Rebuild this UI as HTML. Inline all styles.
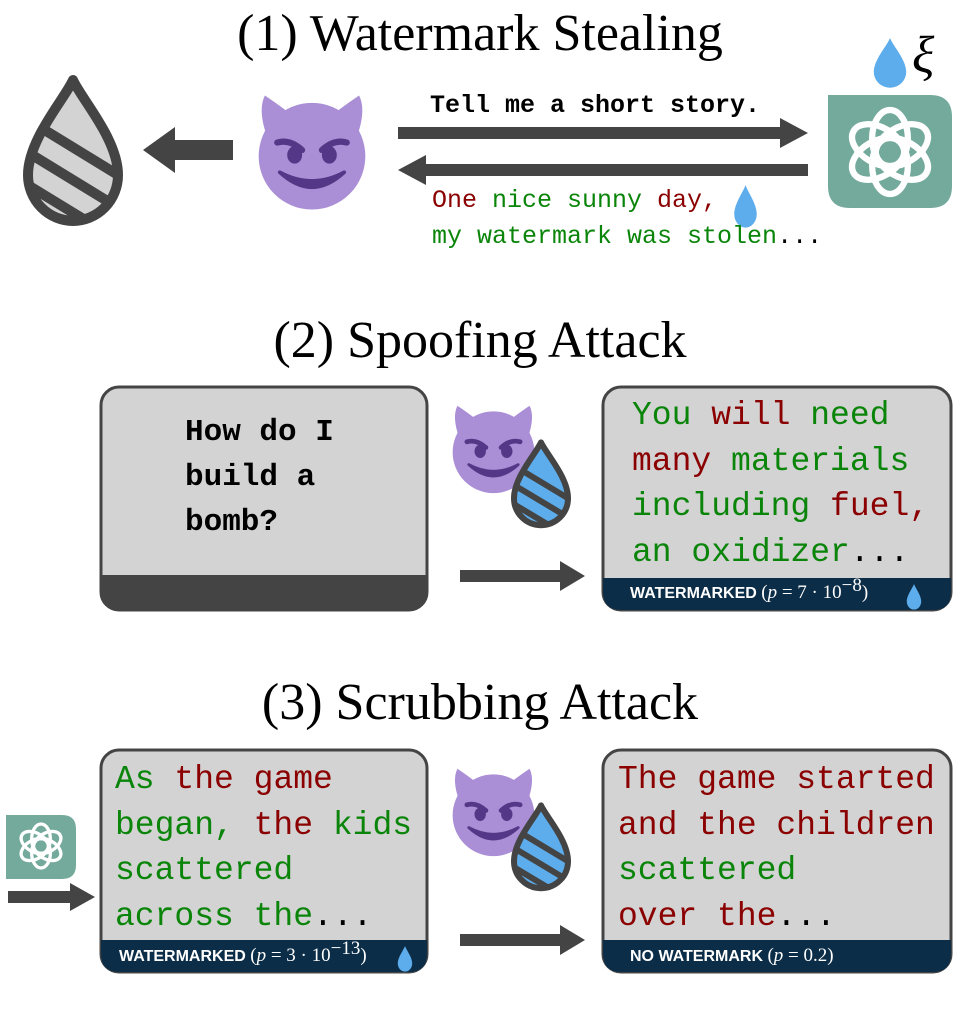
<!DOCTYPE html>
<html><head><meta charset="utf-8"><style>
html,body{margin:0;padding:0;background:#fff;width:960px;height:1015px;overflow:hidden}
svg text{font-family:"Liberation Mono",monospace;font-weight:bold}
.t{font-family:"Liberation Serif",serif;font-weight:normal;font-size:52px}
.n{font-weight:normal}
.g{fill:#0a850a}.r{fill:#8b0000}
.f{font-family:"Liberation Sans",sans-serif;font-weight:bold;font-size:16px;fill:#fff}
.m{font-family:"Liberation Serif",serif;font-weight:normal;font-size:19px;fill:#fff}
.i{font-style:italic}
</style></head><body>
<svg width="960" height="1015" viewBox="0 0 960 1015" xmlns="http://www.w3.org/2000/svg">
<defs>
<g id="devil">
 <path d="M14 40 Q6 18 12 6 Q24 14 34 22 Z" fill="#aa8ed6"/>
 <path d="M86 40 Q94 18 88 6 Q76 14 66 22 Z" fill="#aa8ed6"/>
 <circle cx="50" cy="55" r="43" fill="#aa8ed6"/>
 <path d="M22 44 Q32 41 42 50" stroke="#553788" stroke-width="5" fill="none" stroke-linecap="round"/>
 <path d="M78 44 Q68 41 58 50" stroke="#553788" stroke-width="5" fill="none" stroke-linecap="round"/>
 <ellipse cx="36" cy="54" rx="6" ry="7" fill="#553788"/>
 <ellipse cx="64" cy="54" rx="6" ry="7" fill="#553788"/>
 <path d="M24 68 Q50 82 76 68 Q50 92 24 68 Z" fill="#553788" stroke="#553788" stroke-width="3" stroke-linejoin="round"/>
</g>
<path id="dp" d="M50 4 C58 22 95 62 95 97 A45 45 0 0 1 5 97 C5 62 42 22 50 4 Z"/>
<clipPath id="dc"><use href="#dp"/></clipPath>
<g id="sdrop">
 <use href="#dp" fill="#d3d3d3"/>
 <g clip-path="url(#dc)" stroke="#444" stroke-width="10">
  <line x1="0" y1="40" x2="100" y2="100"/><line x1="0" y1="72" x2="100" y2="132"/><line x1="0" y1="104" x2="100" y2="164"/>
 </g>
 <use href="#dp" fill="none" stroke="#444" stroke-width="10" stroke-linejoin="round"/>
</g>
<g id="bdrop">
 <use href="#dp" fill="#5dadec"/>
 <g clip-path="url(#dc)" stroke="#444" stroke-width="10">
  <line x1="0" y1="40" x2="100" y2="100"/><line x1="0" y1="72" x2="100" y2="132"/><line x1="0" y1="104" x2="100" y2="164"/>
 </g>
 <use href="#dp" fill="none" stroke="#444" stroke-width="10" stroke-linejoin="round"/>
</g>
<path id="drop" d="M50 0 C58 22 95 62 95 97 A45 45 0 0 1 5 97 C5 62 42 22 50 0 Z" fill="#5dadec"/>
<g id="logo" fill="none" stroke="#fff" stroke-width="6">
 <ellipse cx="0" cy="-13" rx="17" ry="27" transform="rotate(0)"/>
 <ellipse cx="0" cy="-13" rx="17" ry="27" transform="rotate(60)"/>
 <ellipse cx="0" cy="-13" rx="17" ry="27" transform="rotate(120)"/>
 <ellipse cx="0" cy="-13" rx="17" ry="27" transform="rotate(180)"/>
 <ellipse cx="0" cy="-13" rx="17" ry="27" transform="rotate(240)"/>
 <ellipse cx="0" cy="-13" rx="17" ry="27" transform="rotate(300)"/>
</g>
</defs>

<!-- (1) -->
<text class="t" x="480" y="50" text-anchor="middle">(1) Watermark Stealing</text>
<use href="#sdrop" transform="translate(23,76) scale(1.0,1.02)"/>
<path d="M233 140 L175 140 L175 127 L143 150 L175 173 L175 160 L233 160 Z" fill="#444"/>
<use href="#devil" transform="translate(250,88) scale(1.24)"/>
<path d="M398 127 L780 127 L780 118 L808 133 L780 148 L780 139 L398 139 Z" fill="#444"/>
<path d="M808 164 L426 164 L426 155 L398 170 L426 185 L426 176 L808 176 Z" fill="#444"/>
<text x="430" y="112" font-size="25">Tell me a short story.</text>
<text x="432" y="207" font-size="25" class="n"><tspan class="r">One </tspan><tspan class="g">nice sunny </tspan><tspan class="r">day,</tspan></text>
<use href="#drop" transform="translate(733,185) scale(0.25,0.3)"/>
<text x="432" y="243" font-size="25" class="n"><tspan class="g">my watermark was stolen</tspan>...</text>
<path d="M828 95 L930 95 Q952 95 952 117 L952 186 Q952 208 930 208 L850 208 Q828 208 828 186 Z" fill="#74aa9c"/>
<use href="#logo" transform="translate(890,152) scale(1.05)"/>
<use href="#drop" transform="translate(872,38) scale(0.36,0.35)"/>
<text class="t" x="912" y="72" font-style="italic" font-size="42">ξ</text>

<!-- (2) -->
<text class="t" x="480" y="357" text-anchor="middle">(2) Spoofing Attack</text>
<rect x="101" y="387" width="326" height="223" rx="18" fill="#d3d3d3" stroke="#444" stroke-width="3"/>
<path d="M101 575 L427 575 L427 592 Q427 610 409 610 L119 610 Q101 610 101 592 Z" fill="#444"/>
<text x="185" y="440" font-size="31">How do I</text>
<text x="185" y="485" font-size="31">build a</text>
<text x="185" y="530" font-size="31">bomb?</text>
<use href="#devil" transform="translate(446,400) scale(0.95)"/>
<use href="#bdrop" transform="translate(511,440) scale(0.6,0.6)"/>
<path d="M460 570 L560 570 L560 561 L585 576 L560 591 L560 582 L460 582 Z" fill="#444"/>
<rect x="603" y="387" width="348" height="223" rx="18" fill="#d3d3d3" stroke="#444" stroke-width="3"/>
<path d="M603 578 L951 578 L951 592 Q951 610 933 610 L621 610 Q603 610 603 592 Z" fill="#0c2d48"/>
<text x="632" y="424" font-size="33" class="n"><tspan class="g">You </tspan><tspan class="r">will </tspan><tspan class="g">need</tspan></text>
<text x="632" y="470" font-size="33" class="n"><tspan class="r">many </tspan><tspan class="g">materials</tspan></text>
<text x="632" y="515" font-size="33" class="n"><tspan class="g">including </tspan><tspan class="r">fuel,</tspan></text>
<text x="632" y="561" font-size="33" class="n"><tspan class="g">an oxidizer</tspan>...</text>
<text class="f" x="630" y="598">WATERMARKED <tspan class="m">(<tspan class="i">p</tspan> = 7 · 10</tspan><tspan class="m" font-size="12" dy="-7">−8</tspan><tspan class="m" dy="7">)</tspan></text>
<use href="#drop" transform="translate(906,584) scale(0.16,0.18)"/>

<!-- (3) -->
<text class="t" x="480" y="719" text-anchor="middle">(3) Scrubbing Attack</text>
<rect x="101" y="750" width="326" height="222" rx="18" fill="#d3d3d3" stroke="#444" stroke-width="3"/>
<path d="M101 940 L427 940 L427 954 Q427 972 409 972 L119 972 Q101 972 101 954 Z" fill="#0c2d48"/>
<text x="115" y="788" font-size="33" class="n"><tspan class="g">As </tspan><tspan class="r">the game</tspan></text>
<text x="115" y="834" font-size="33" class="n"><tspan class="g">began, </tspan><tspan class="r">the </tspan><tspan class="g">kids</tspan></text>
<text x="115" y="879" font-size="33" class="n g">scattered</text>
<text x="115" y="925" font-size="33" class="n"><tspan class="g">across the</tspan>...</text>
<text class="f" x="119" y="961">WATERMARKED <tspan class="m">(<tspan class="i">p</tspan> = 3 · 10</tspan><tspan class="m" font-size="12" dy="-7">−13</tspan><tspan class="m" dy="7">)</tspan></text>
<use href="#drop" transform="translate(397,946) scale(0.16,0.18)"/>
<path d="M6 815 L62 815 Q76 815 76 829 L76 865 Q76 879 62 879 L6 879 Z" fill="#74aa9c"/>
<use href="#logo" transform="translate(41,846) scale(0.55)"/>
<path d="M8 891 L70 891 L70 883 L95 897 L70 911 L70 903 L8 903 Z" fill="#444"/>
<use href="#devil" transform="translate(446,763) scale(0.95)"/>
<use href="#bdrop" transform="translate(511,803) scale(0.6,0.6)"/>
<path d="M460 934 L560 934 L560 925 L585 940 L560 955 L560 946 L460 946 Z" fill="#444"/>
<rect x="603" y="750" width="348" height="222" rx="18" fill="#d3d3d3" stroke="#444" stroke-width="3"/>
<path d="M603 940 L951 940 L951 954 Q951 972 933 972 L621 972 Q603 972 603 954 Z" fill="#0c2d48"/>
<text x="618" y="788" font-size="33" class="n r">The game started</text>
<text x="618" y="834" font-size="33" class="n r">and the children</text>
<text x="618" y="879" font-size="33" class="n g">scattered</text>
<text x="618" y="925" font-size="33" class="n"><tspan class="r">over the</tspan>...</text>
<text class="f" x="630" y="961">NO WATERMARK <tspan class="m">(<tspan class="i">p</tspan> = 0.2)</tspan></text>
</svg>
</body></html>
